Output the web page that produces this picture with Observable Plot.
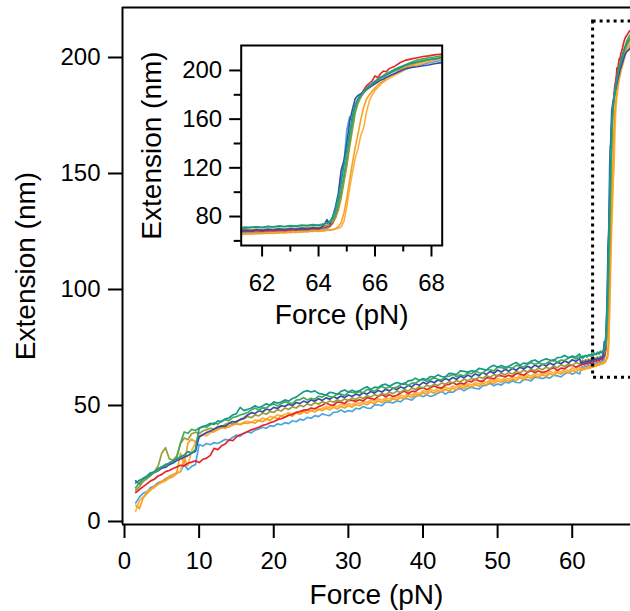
<!DOCTYPE html>
<html><head><meta charset="utf-8">
<script src="https://cdn.jsdelivr.net/npm/d3@7"></script>
<script src="https://cdn.jsdelivr.net/npm/@observablehq/plot@0.6"></script>
<style>
html,body{margin:0;padding:0;background:#fff;}
#wrap{position:relative;width:630px;height:611px;overflow:hidden;background:#fff;}
#main,#inset{position:absolute;}
#main{left:0;top:0;}
#inset{left:120px;top:30px;}
</style></head><body>
<div id="wrap"><div id="main"></div><div id="inset"></div></div>
<script>
// Shared force grid (pN)
const force = [
1.5,2,2.5,3,3.5,4,4.5,5,5.5,6,
6.5,7,7.5,8,8.5,9,9.5,10,10.5,11,
11.5,12,12.5,13,13.5,14,14.5,15,15.5,16,
16.5,17,17.5,18,18.5,19,19.5,20,20.5,21,
21.5,22,22.5,23,23.5,24,24.5,25,25.5,26,
26.5,27,27.5,28,28.5,29,29.5,30,30.5,31,
31.5,32,32.5,33,33.5,34,34.5,35,35.5,36,
36.5,37,37.5,38,38.5,39,39.5,40,40.5,41,
41.5,42,42.5,43,43.5,44,44.5,45,45.5,46,
46.5,47,47.5,48,48.5,49,49.5,50,50.5,51,
51.5,52,52.5,53,53.5,54,54.5,55,55.5,56,
56.5,57,57.5,58,58.5,59,59.5,60,60.5,61,
61.2,61.4,61.6,61.8,62,62.2,62.4,62.6,62.8,63,63.2,63.4,63.6,63.8,64,
64.1,64.2,64.3,64.4,64.5,64.6,64.7,64.8,64.9,65,65.1,65.2,65.3,65.4,65.5,65.6,65.7,65.8,65.9,66,66.1,66.2,66.3,66.4,66.5,
66.7,66.9,67.1,67.3,67.5,67.7,67.9,68.1,68.3,68.5
];

// Extension (nm) per trace
const teal = [
16.5,17.8,18.5,19.6,21.0,21.4,22.8,23.5,24.6,25.0,
26.2,26.8,27.9,28.6,30.1,29.4,31.0,40.2,40.8,41.5,
42.3,41.8,43.4,43.0,44.2,44.6,45.9,46.5,49.2,47.8,
48.3,48.9,49.9,49.0,49.8,50.7,50.2,51.6,51.0,51.5,
52.4,51.9,53.0,53.6,54.8,55.9,56.4,55.8,56.3,55.2,
54.9,54.4,55.7,55.4,54.8,56.1,56.7,55.8,56.6,55.9,
56.4,57.3,58.1,56.9,57.9,57.7,58.8,59.2,58.3,59.2,
59.9,59.4,59.1,60.6,60.8,61.8,60.8,61.6,61.2,62.5,
62.2,63.2,62.5,62.3,63.8,63.7,63.3,64.9,64.7,64.4,
65.0,64.6,66.0,65.7,65.2,66.6,67.3,66.5,67.2,66.5,
66.9,67.8,68.5,67.4,68.3,68.1,69.1,69.6,68.6,69.5,
70.1,69.6,69.2,70.6,70.8,71.6,70.6,71.3,70.9,72.2,
70.6,71.3,70.9,71.5,71.0,71.8,71.4,72.0,71.6,72.3,71.9,72.6,72.2,73.0,72.6,
73.1,73.8,74.5,76.0,79.5,86,96,108,122,135,149,163,172,177,180,183,185,187.5,189,191,192.5,194,195,196.5,197.5,
200.5,202.5,204.5,206,207,208,209,209.5,210.2,210.6
];
const green = [
14.5,16.8,18.0,18.9,20.4,21.0,22.1,23.6,24.0,25.3,
26.0,27.4,33.8,38.6,38.0,39.7,39.2,40.3,41.0,40.6,
41.8,42.5,42.0,43.3,43.9,43.5,44.8,45.2,45.9,46.4,
47.0,48.1,48.9,47.9,49.0,48.9,50.1,50.7,49.8,50.8,
51.6,51.1,50.8,52.3,52.5,53.4,52.4,53.1,52.7,54.0,
53.6,54.6,53.8,53.6,55.0,54.9,54.3,55.8,55.7,55.3,
56.0,55.5,56.9,56.6,56.1,57.4,58.2,57.3,58.1,57.4,
57.9,58.9,59.7,58.6,59.6,59.6,60.7,61.2,60.3,61.2,
61.9,61.3,61.0,62.4,62.6,63.4,62.4,63.2,62.7,64.1,
63.7,64.8,64.1,63.9,65.4,65.4,64.9,66.5,66.3,65.9,
66.5,66.0,67.3,67.1,66.5,67.8,68.5,67.7,68.4,67.7,
68.1,69.1,69.8,68.6,69.6,69.4,70.5,70.9,70.0,70.9,
70.9,70.3,71.2,71.6,71.0,71.9,71.5,72.3,71.8,72.6,72.1,73.0,72.7,73.4,73.1,
73.6,74.0,74.6,75.4,77.5,82,90,101,114,128,142,156,168,175,179,182.5,185,187,189,191,193,194.5,196,197.5,198.5,
201,203,205,207,208.5,209.5,210.5,211,211.8,212.2
];
const darkBlue = [
17.5,16.2,18.6,19.3,20.1,21.2,21.8,23.0,23.4,24.5,
25.2,26.3,26.9,27.8,28.4,29.5,30.2,36.5,37.4,38.2,
39.0,39.8,40.6,41.2,41.0,42.3,43.1,42.8,44.0,44.6,
45.9,46.9,46.5,47.8,47.2,48.5,48.0,49.2,48.7,49.9,
49.6,50.6,50.0,51.3,50.8,51.9,51.2,52.4,51.8,52.9,
52.2,53.3,52.7,53.8,53.0,54.1,53.4,54.5,53.9,54.9,
54.4,55.5,54.9,56.0,55.3,56.5,55.8,57.0,56.3,57.5,
56.8,58.0,57.4,58.7,58.0,59.4,58.7,60.0,59.3,60.5,
59.8,61.0,60.4,61.6,60.9,62.1,61.3,62.7,61.9,63.1,
62.3,63.6,62.9,64.2,63.4,64.7,63.9,65.3,64.4,65.6,
64.8,66.0,65.2,66.5,65.7,66.9,66.1,67.4,66.6,67.8,
67.0,68.3,67.5,68.7,68.0,69.2,68.4,69.7,69.0,70.2,
68.0,68.8,68.3,69.1,68.6,69.4,68.9,69.7,69.2,70.0,69.6,70.3,69.9,70.7,70.4,
71.0,73.5,77.5,74.0,79.5,88,99,118,126,140,158,168,177,179.5,181,182.5,184.5,186,187.5,189,190.5,192,193,194.5,195.5,
197.5,199.5,201.5,202.5,203,203.8,204.5,205.5,206.2,206.8
];
const olive = [
13.5,15.0,17.2,18.4,19.8,21.5,23.8,29.5,31.8,27.0,
26.5,28.2,33.5,36.0,35.2,37.8,38.5,37.9,39.0,39.6,
40.2,39.8,41.0,40.7,41.9,42.4,42.1,43.3,43.8,44.2,
45.3,44.7,45.9,45.5,46.7,46.2,47.4,47.0,48.2,47.6,
48.9,48.3,49.4,48.9,50.1,49.5,50.7,50.0,51.2,50.6,
51.6,51.0,52.0,51.4,52.4,51.8,52.8,52.1,53.2,52.6,
53.7,53.0,54.2,53.6,54.7,54.1,55.2,54.6,55.7,55.1,
56.2,55.6,56.9,56.2,57.5,56.9,58.1,57.5,58.7,58.1,
59.2,58.6,59.7,59.1,60.3,59.6,60.8,60.1,61.3,60.6,
61.7,61.1,62.3,61.7,62.9,62.2,63.3,62.8,63.9,63.2,
64.2,63.6,64.7,64.1,65.2,64.5,65.6,65.0,66.1,65.4,
66.5,65.8,67.0,66.3,67.5,66.8,68.0,67.3,68.5,67.9,
68.9,69.5,69.0,69.8,69.3,70.0,69.5,70.3,69.8,70.6,70.1,70.9,70.5,71.3,70.9,
71.6,72.0,72.8,73.8,75.5,79,85,95,108,121,137,151,165,173,178,181.5,184,186,188,190,192,193.5,195,196.5,197.5,
200,202,204,205.5,206.8,207.8,208.8,209.5,210.2,210.8
];
const red = [
12.5,13.8,15.0,16.2,17.5,18.2,19.6,20.3,21.5,22.0,
22.8,23.5,24.2,24.0,25.1,25.6,26.2,25.4,26.8,27.3,
28.5,31.5,31.0,32.6,33.4,35.2,34.8,36.5,37.4,38.0,
38.8,39.5,40.1,40.6,41.4,41.8,42.6,43.0,43.9,44.3,
44.9,45.8,46.2,47.0,47.3,48.0,48.1,48.9,48.6,49.5,
50.1,51.1,50.3,50.1,51.5,51.4,50.8,52.3,52.2,51.8,
52.5,52.0,53.4,53.1,52.6,53.9,54.7,53.8,54.6,53.9,
54.4,55.4,56.2,55.1,56.1,56.1,57.2,57.7,56.8,57.7,
58.4,57.8,57.5,58.9,59.1,59.9,58.9,59.7,59.2,60.6,
60.2,61.3,60.6,60.4,61.9,61.9,61.4,63.0,62.8,62.4,
63.0,62.5,63.8,63.6,63.0,64.3,65.0,64.2,64.9,64.2,
64.6,65.6,66.3,65.1,66.1,65.9,67.0,67.4,66.5,67.4,
67.3,68.0,67.5,68.3,67.8,68.6,68.1,68.9,68.4,69.2,68.8,69.6,69.2,70.0,69.6,
70.3,70.9,71.5,72.5,74.5,79,87,98,111,125,140,155,167,175,180,184,187.5,189.5,191.5,195.5,194,197.5,199.5,199,201.5,
203.5,206.5,208.5,209.5,210.5,211.5,212,212.8,213.3,213.7
];
const yellow = [
4.5,9.0,10.5,12.8,14.0,14.6,16.0,16.8,17.5,18.6,
19.2,20.5,21.8,27.5,24.0,30.6,33.8,36.2,37.5,36.9,
38.2,38.9,39.5,40.3,41.0,40.6,41.8,42.3,41.9,42.8,
43.2,42.6,43.8,43.4,44.6,44.0,45.3,44.8,46.0,45.5,
46.2,46.8,46.3,47.1,47.6,47.2,48.1,47.6,48.6,48.1,
48.8,49.6,49.1,50.1,49.5,50.5,49.9,50.9,50.3,51.3,
50.9,51.8,51.3,52.4,51.8,52.9,52.3,53.4,52.8,53.9,
53.3,54.5,53.9,55.1,54.4,55.8,55.1,56.4,55.7,56.9,
56.3,57.5,56.8,58.0,57.2,58.4,57.7,59.0,58.3,59.5,
58.8,60.0,59.3,60.6,59.8,61.1,60.3,61.7,60.9,62.1,
61.3,62.5,61.7,63.0,62.1,63.4,62.6,63.9,63.1,64.3,
63.5,64.8,64.0,65.2,64.4,65.7,64.9,66.2,65.5,66.7,
65.8,65.3,66.2,65.7,66.5,66.0,66.9,66.4,67.3,66.8,67.7,67.2,68.1,67.7,68.5,
68.2,68.8,68.5,69.3,69.0,69.8,70.3,71.5,76,88,103,116,128,136,147,153,166,175,180,183.5,186,188.5,190.5,192,193.5,
196,198.5,201,203,204.5,206,207.2,208.2,209,209.5
];
const orange = [
7.0,5.5,10.2,12.0,13.5,15.2,16.1,17.4,18.0,19.5,
20.2,21.0,29.5,24.5,33.8,35.5,34.2,36.8,37.5,38.4,
39.0,38.6,39.8,40.5,40.1,41.2,41.6,42.0,41.7,42.5,
42.3,42.9,42.4,43.5,43.0,44.1,43.6,44.9,44.3,45.5,
45.0,45.9,45.4,46.8,46.2,47.3,46.7,47.9,47.2,48.4,
47.8,48.8,48.1,49.2,48.5,49.6,48.9,50.0,49.3,50.4,
49.9,50.9,50.3,51.5,50.8,52.0,51.2,52.5,51.8,52.9,
52.3,53.5,52.9,54.2,53.4,54.9,54.1,55.5,54.8,56.0,
55.3,56.5,55.8,57.0,56.2,57.5,56.7,58.1,57.3,58.6,
57.8,59.1,58.3,59.6,58.8,60.2,59.3,60.7,59.9,61.1,
60.3,61.5,60.7,62.0,61.1,62.4,61.6,62.9,62.1,63.3,
62.5,63.8,63.0,64.2,63.5,64.7,64.0,65.2,64.5,65.7,
65.2,65.9,65.5,66.2,65.8,66.6,66.1,66.9,66.5,67.3,66.9,67.7,67.3,68.1,67.8,
68.4,68.1,68.9,68.6,69.4,70.2,71.5,75,83,95,110,124,137,148,160,170,176.5,180,183,185.5,188,190,191.5,193.5,195,
197.5,200,202.5,204.5,206,207.2,208.3,209.2,209.8,210.2
];
const lightBlue = [
8.0,10.5,12.2,12.9,14.6,15.3,16.8,17.2,18.5,19.1,
20.0,20.8,21.5,24.6,22.3,23.8,24.5,33.2,32.5,33.6,
33.1,34.0,33.6,34.5,35.4,35.0,36.3,37.2,36.8,38.0,
38.6,38.2,39.4,39.9,40.6,40.2,41.3,41.0,42.1,41.7,
42.6,42.2,43.4,43.0,44.1,43.7,44.9,44.5,45.6,45.2,
46.4,45.9,45.6,47.0,47.2,48.1,47.1,47.8,47.4,48.8,
48.5,49.6,48.9,48.8,50.3,50.3,49.9,51.5,51.4,51.1,
52.0,51.6,53.0,52.8,52.3,53.8,54.6,53.8,54.6,53.9,
54.4,55.3,56.1,54.9,55.9,55.7,56.8,57.3,56.3,57.3,
57.9,57.4,57.1,58.5,58.7,59.6,58.5,59.3,58.8,60.1,
59.7,60.7,59.9,59.8,61.2,61.1,60.6,62.2,62.0,61.6,
62.2,61.8,63.1,62.8,62.3,63.6,64.4,63.5,64.3,63.6,
66.0,66.7,66.3,67.1,66.6,67.4,67.0,67.8,67.3,68.1,67.7,68.5,68.1,68.9,68.5,
69.0,69.6,70.1,71.5,74.5,81,92,112,124,151,162,158,171,176.5,180,183,185.5,187.5,189.5,191,192.5,194,195.5,196.5,197.5,
199.5,201,202.5,203.5,204.3,205.2,206.2,207.2,208,208.6
];

const seriesNames  = ["light blue","yellow","orange","red","olive","dark blue","green","teal"];
const seriesColors = ["#47a6e0","#fbb040","#f7a11d","#e8232a","#9c9c3c","#3a4aa8","#46ab55","#17998b"];
const seriesValues = [lightBlue, yellow, orange, red, olive, darkBlue, green, teal];

const mainTicksX = [0,10,20,30,40,50,60];
const mainTicksY = [0,50,100,150,200];
const insetTicksX = [62,64,66,68];
const insetMinorX = [63,65,67];
const insetTicksY = [80,120,160,200];
const insetMinorY = [60,100,140,180];
const zoomBox = [{f1: 62.8, f2: 72, e1: 62, e2: 215.5}];
const mainDomainX = [-0.27, 67.81];
const mainDomainY = [-1.3, 221.55];
const insetDomainX = [61.26, 68.38];
const insetDomainY = [56.2, 220.5];
const xLabel = "Force (pN)";
const yLabel = "Extension (nm)";

const rows = [];
seriesValues.forEach((vals, s) => {
  vals.forEach((v, i) => {
    if (force[i] != null && v != null) rows.push({force: force[i], ext: v, name: seriesNames[s]});
  });
});

const font = "'Liberation Sans', Arial, Helvetica, sans-serif";
const colorScale = {domain: seriesNames, range: seriesColors};

const main = Plot.plot({
  width: 630, height: 611,
  marginLeft: 122, marginRight: 0, marginTop: 7, marginBottom: 87,
  x: {domain: mainDomainX},
  y: {domain: mainDomainY},
  color: colorScale,
  style: {fontFamily: font, fontSize: "24px", background: "white", color: "black"},
  marks: [
    Plot.line(rows, {x: "force", y: "ext", z: "name", stroke: "name", strokeWidth: 1.7, clip: true}),
    Plot.rect(zoomBox, {x1: "f1", x2: "f2", y1: "e1", y2: "e2", fill: "none", stroke: "black", strokeWidth: 3, strokeDasharray: "3,4"}),
    Plot.ruleX([mainDomainX[0]], {strokeWidth: 2}),
    Plot.ruleY([mainDomainY[0]], {strokeWidth: 2}),
    Plot.ruleY([mainDomainY[1]], {strokeWidth: 2}),
    Plot.axisX({ticks: mainTicksX, tickSize: 14, tickPadding: 13, strokeWidth: 2, label: null, tickFormat: d => String(d)}),
    Plot.axisY({ticks: mainTicksY, tickSize: 14, tickPadding: 8, strokeWidth: 2, label: null, tickFormat: d => String(d)}),
    Plot.text([xLabel], {text: d => d, frameAnchor: "bottom", lineAnchor: "bottom", textAnchor: "middle", dy: 79, fontSize: 28}),
    Plot.text([yLabel], {text: d => d, frameAnchor: "left", textAnchor: "middle", rotate: -90, dx: -96, fontSize: 28})
  ]
});
document.getElementById("main").append(main);

const inset = Plot.plot({
  width: 330, height: 310,
  marginLeft: 120.7, marginRight: 8.3, marginTop: 15, marginBottom: 95,
  x: {domain: insetDomainX},
  y: {domain: insetDomainY},
  color: colorScale,
  style: {fontFamily: font, fontSize: "24px", background: "transparent", color: "black"},
  marks: [
    Plot.line(rows, {x: "force", y: "ext", z: "name", stroke: "name", strokeWidth: 1.6, clip: true}),
    Plot.frame({strokeWidth: 2}),
    Plot.axisX({ticks: insetTicksX, tickSize: 11.5, tickPadding: 16.5, strokeWidth: 2, label: null, tickFormat: d => String(d)}),
    Plot.axisX({ticks: insetMinorX, tickSize: 6.5, tickPadding: 0, strokeWidth: 2, label: null, tickFormat: () => ""}),
    Plot.axisY({ticks: insetTicksY, tickSize: 11.5, tickPadding: 7.5, strokeWidth: 2, label: null, tickFormat: d => String(d)}),
    Plot.axisY({ticks: insetMinorY, tickSize: 7, tickPadding: 0, strokeWidth: 2, label: null, tickFormat: () => ""}),
    Plot.text([xLabel], {text: d => d, frameAnchor: "bottom", lineAnchor: "bottom", textAnchor: "middle", dy: 78.3, fontSize: 28}),
    Plot.text([yLabel], {text: d => d, frameAnchor: "left", textAnchor: "middle", rotate: -90, dx: -88.7, fontSize: 28})
  ]
});
document.getElementById("inset").append(inset);
</script>
</body></html>
